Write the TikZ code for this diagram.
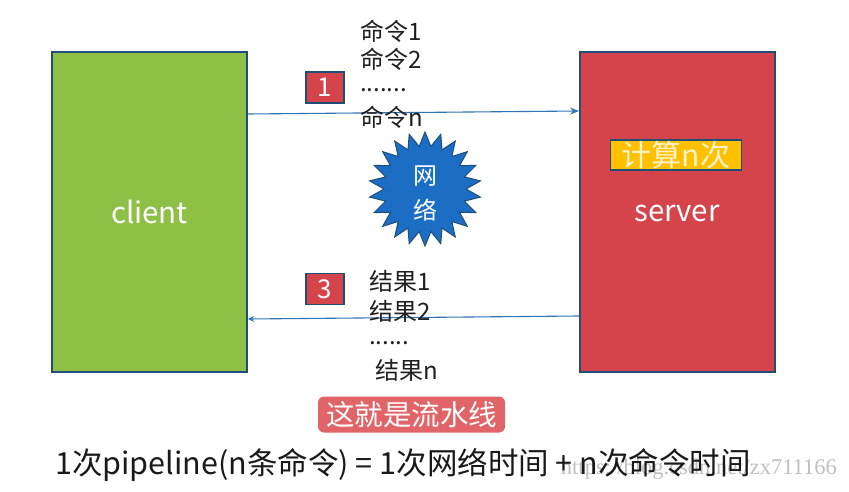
\documentclass[tikz,border=0pt]{standalone}
\usepackage{fontspec}
\setmainfont{Noto Sans CJK SC}
\newfontfamily\wmfont{Liberation Serif}
\usetikzlibrary{arrows.meta}
\definecolor{cgreen}{HTML}{8DC045}
\definecolor{cred}{HTML}{D6444B}
\definecolor{cborder}{HTML}{1F4E79}
\definecolor{cblue}{HTML}{2E75B6}
\definecolor{starblue}{HTML}{1C6EC4}
\definecolor{corange}{HTML}{FFC000}
\definecolor{pinkred}{HTML}{E06468}
\definecolor{lighttext}{HTML}{FFF2CC}
\tikzset{
  bigbox/.style={draw=cborder, line width=2pt, minimum width=195pt, minimum height=320pt, text=white, font=\fontsize{29.5}{34}\selectfont},
  numbox/.style={draw=cborder, line width=1.6pt, fill=cred, minimum width=38pt, minimum height=31pt, inner sep=0pt, text=white, font=\fontsize{26}{28}\selectfont},
  conn/.style={draw=cblue, line width=1.1pt, -{Stealth[length=9pt,width=7pt]}},
  listtext/.style={anchor=west, inner sep=0pt, font=\fontsize{24}{28}\selectfont, text=black!88},
}
\begin{document}
\begin{tikzpicture}[x=1pt,y=-1pt]
\useasboundingbox (0,0) rectangle (849,492);
% boxes
\node[bigbox, fill=cgreen] (client) at (149.5,212) {client};
\node[bigbox, fill=cred] (server) at (677.5,212) {};
\node[text=white, font=\fontsize{29.5}{34}\selectfont] (srvlabel) at (677,213) {server};
\node[draw=cborder, line width=1.6pt, fill=corange, minimum width=131pt, minimum height=30pt, inner sep=0pt, text=lighttext, font=\fontsize{30}{32}\selectfont] (calc) at (676,155) {计算n次};
% connectors
\draw[conn] ([yshift=-63pt]client.north east) -- ([yshift=-60pt]server.north west);
\draw[conn, -{Stealth[length=6pt,width=6pt]}] ([yshift=-265pt]server.north west) -- ([yshift=-268pt]client.north east);
% number labels
\node[numbox] (n1) at (325,87.5) {1};
\node[numbox] (n3) at (325,289) {3};
% commands
\node[listtext] (c1) at (360,31) {命令1};
\node[listtext] (c2) at (360,59) {命令2};
\node[listtext] (cd) at (360,90) {.......};
\node[listtext] (cn) at (360,117) {命令n};
% results
\node[listtext] (r1) at (369,281) {结果1};
\node[listtext] (r2) at (369,311) {结果2};
\node[listtext] (rd) at (369,343) {......};
\node[listtext] (rn) at (375,370) {结果n};
% network star
\draw[fill=starblue, draw=cborder, line width=1pt]
  plot[samples at={0,...,43}] ({425+(mod(\x,2)==0?56:41)*cos(90+\x*360/44)}, {189-(mod(\x,2)==0?57:43)*sin(90+\x*360/44)}) -- cycle;
\node[align=center, text=white, font=\fontsize{24}{35}\selectfont] (net) at (425,193) {网\\络};
% pipeline box
\node[fill=pinkred, rounded corners=6pt, minimum width=187pt, minimum height=36pt, inner sep=0pt, text=white, font=\fontsize{28.5}{32}\selectfont] (pipe) at (411.5,414.5) {这就是流水线};
% watermark
\node[anchor=east, inner sep=0pt, text=black!25, font=\wmfont\fontsize{22.5}{26}\selectfont] (wm) at (837,469) {https://blog.csdn.net/zx711166};
% formula
\node[anchor=west, inner sep=0pt, text=black!90, font=\fontsize{30.5}{34}\selectfont] (formula) at (55,465) {1次pipeline(n条命令) = 1次网络时间 + n次命令时间};
\end{tikzpicture}
\end{document}
